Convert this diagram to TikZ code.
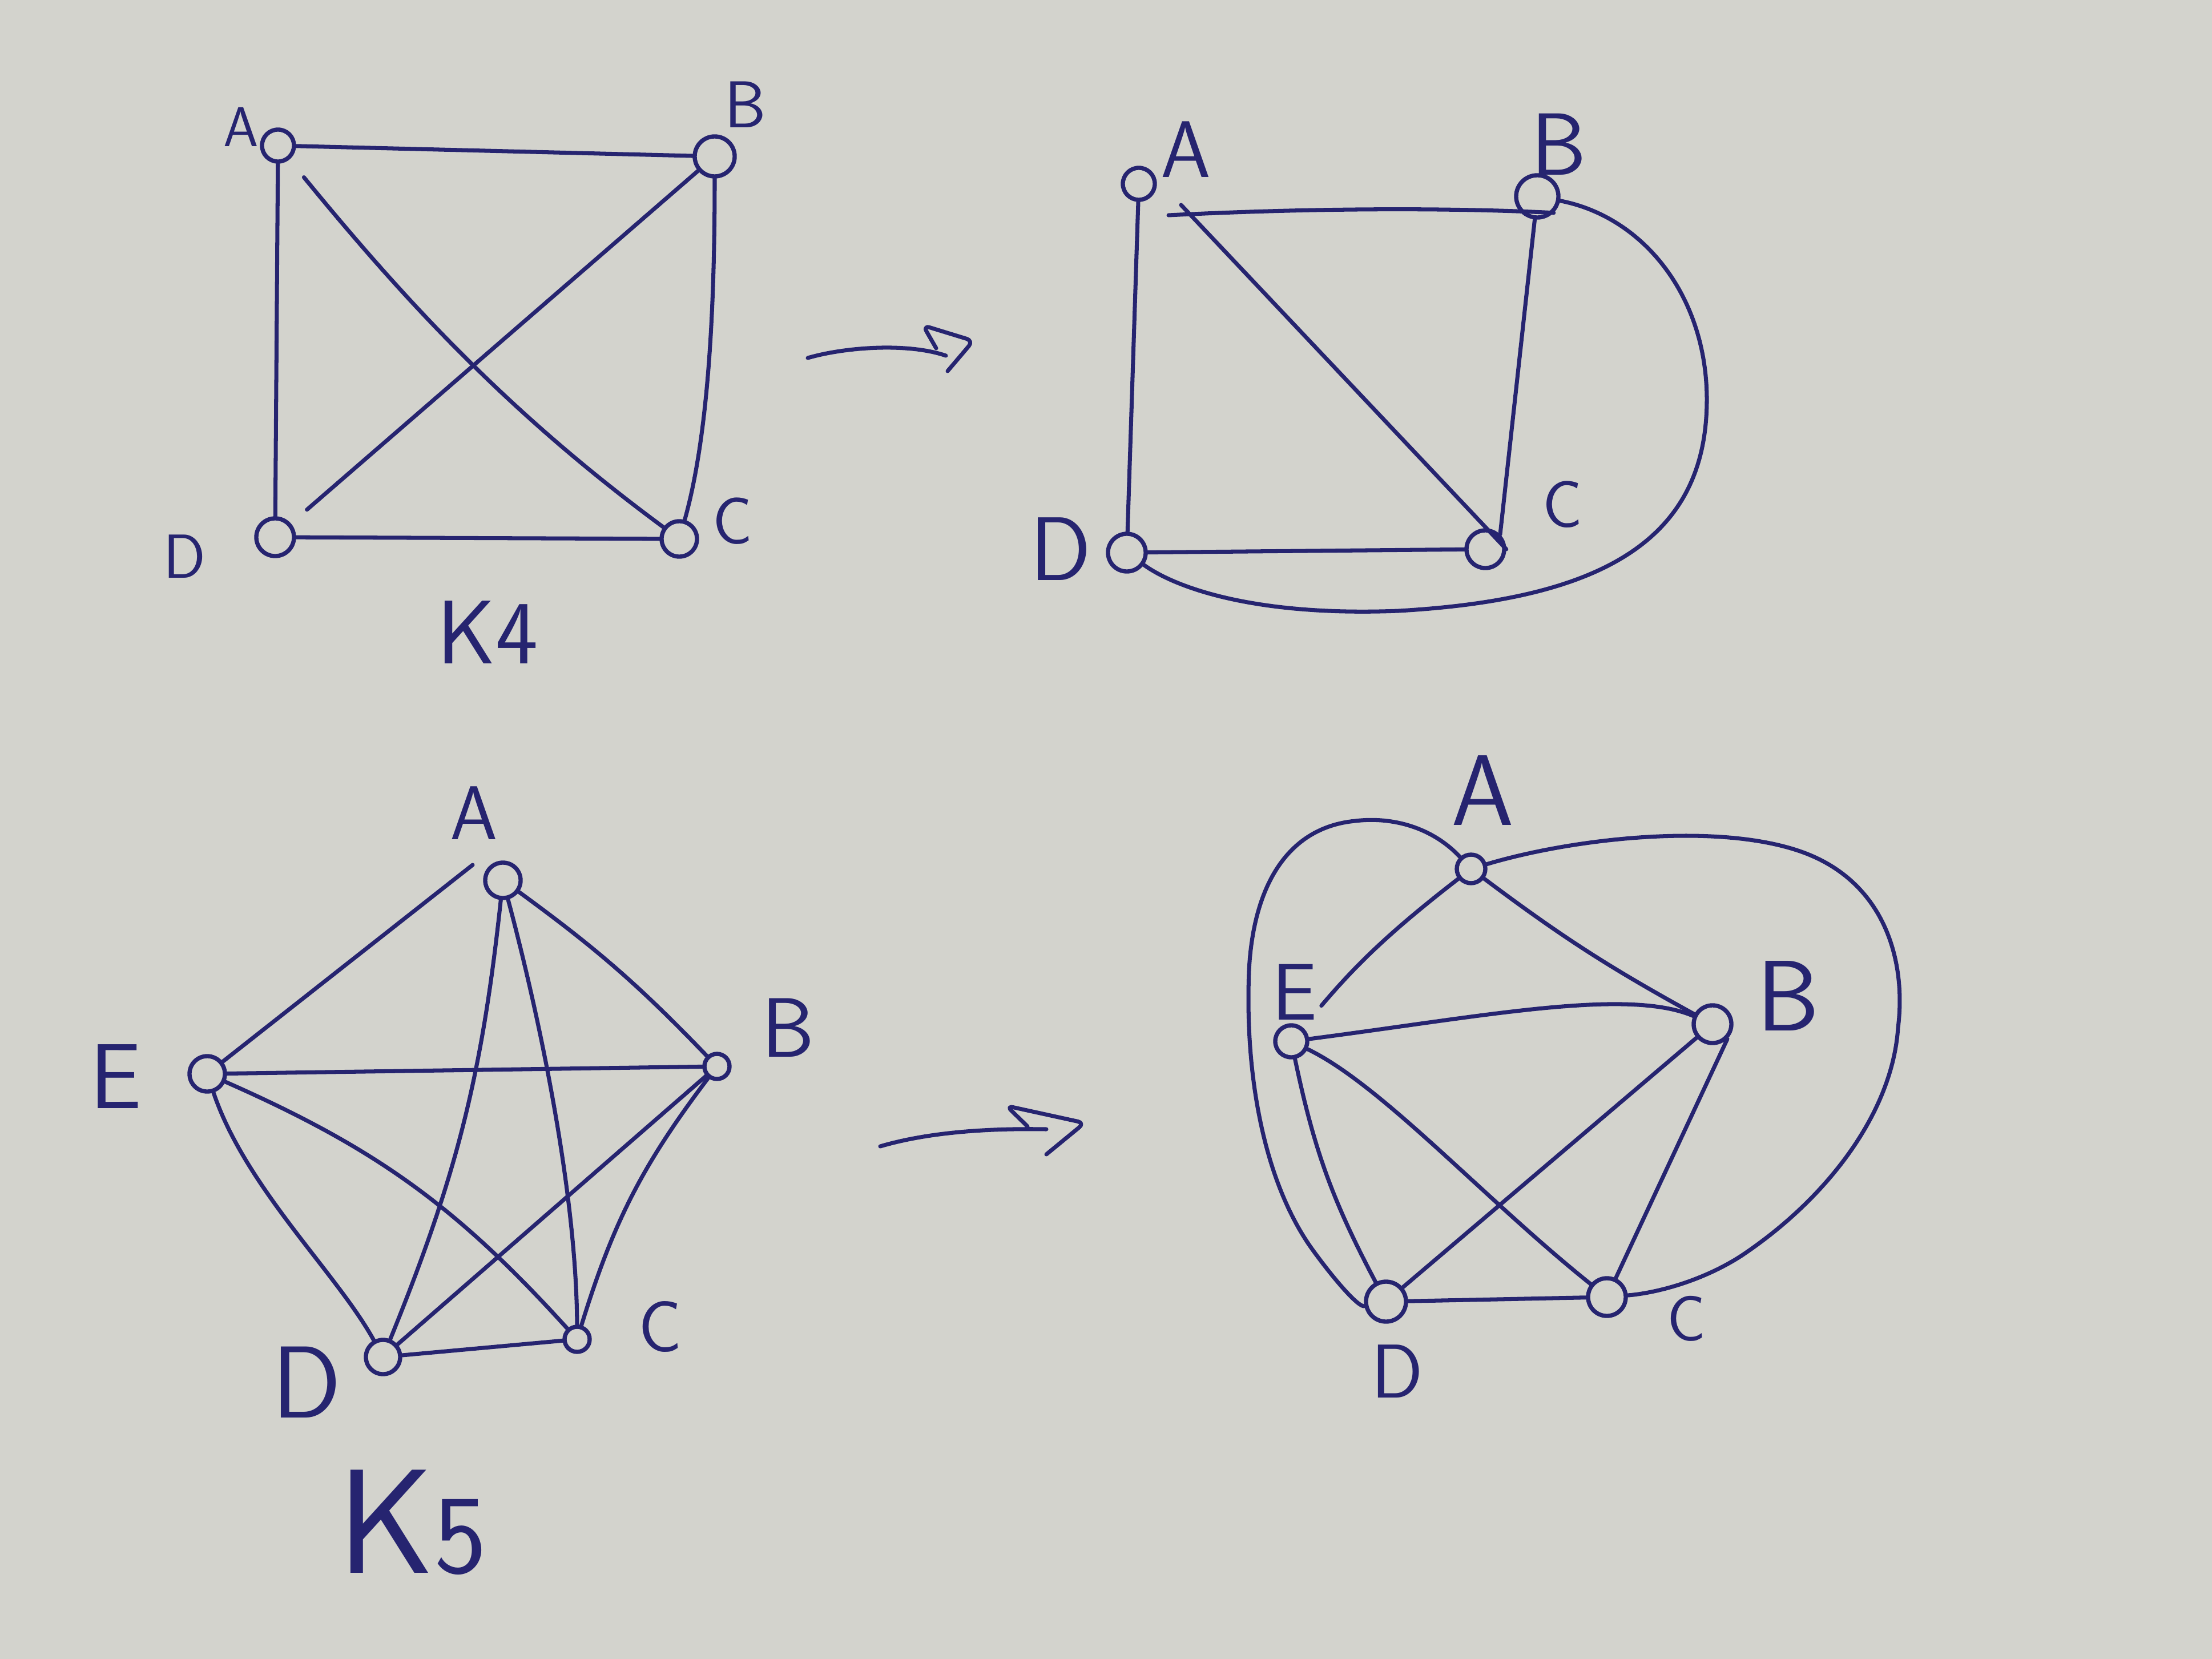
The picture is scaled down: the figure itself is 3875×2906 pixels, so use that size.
\documentclass[tikz,border=0pt]{standalone}
\usepackage{fontspec}
\definecolor{paper}{RGB}{211,211,205}
\definecolor{ink}{RGB}{38,36,112}
\begin{document}
\begin{tikzpicture}[x=0.01cm,y=-0.01cm,
  inkline/.style={draw=ink,line width=2pt,line cap=round,line join=round},
  vtx/.style={circle,draw=ink,line width=2.1pt,inner sep=0pt,minimum size=#1},
  lbl/.style={text=ink,inner sep=0pt,font=\sffamily\fontsize{#1}{#1}\selectfont}]
\fill[paper] (0,0) rectangle (3875,2906);
\useasboundingbox (0,0) rectangle (3875,2906);

% ---------- top left: K4 ----------
\node[vtx=0.56cm] (tlA) at (487,255) {};
\node[vtx=0.70cm] (tlB) at (1252,274) {};
\node[vtx=0.62cm] (tlC) at (1190,944) {};
\node[vtx=0.66cm] (tlD) at (482,941) {};
\node[lbl=28pt] (tlAl) at (422,222) {A};
\node[lbl=33pt] (tlBl) at (1306,183) {B};
\node[lbl=33pt] (tlCl) at (1283,913) {C};
\node[lbl=31pt] (tlDl) at (323,975) {D};
\node[lbl=45pt] (tlK) at (854,1108) {K4};
\draw[inkline] (tlA) -- (tlB);
\draw[inkline] (tlA) -- (tlD);
\draw[inkline] (tlB) .. controls (1252,500) and (1245,750) .. (tlC);
\draw[inkline] (tlD) -- (tlC);
\draw[inkline,shorten <=0.4cm] (tlA) .. controls (720,540) and (900,730) .. (tlC);
\draw[inkline,shorten >=0.37cm] (tlB) -- (tlD);

% ---------- top arrow ----------
\coordinate (a1s) at (1415,627);
\coordinate (a1e) at (1657,623);
\coordinate (a1h) at (1640,610);
\draw[inkline] (a1s) .. controls (1480,608) and (1590,600) .. (a1e);
\draw[inkline,rounded corners=0.12cm] (a1h) -- (1617,570) -- (1705,597) -- (1660,650);

% ---------- top right: planar K4 ----------
\node[vtx=0.56cm] (trA) at (1995,322) {};
\node[vtx=0.74cm] (trB) at (2693,344) {};
\node[vtx=0.66cm] (trC) at (2602,962) {};
\node[vtx=0.66cm] (trD) at (1974,968) {};
\node[lbl=40pt] (trAl) at (2077,262) {A};
\node[lbl=44pt] (trBl) at (2731,253) {B};
\node[lbl=33pt] (trCl) at (2737,884) {C};
\node[lbl=45pt] (trDl) at (1858,962) {D};
\coordinate (trAx) at (2047,377);
\coordinate (trAy) at (2069,359);
\draw[inkline] (trA) -- (trD);
\draw[inkline] (trAx) .. controls (2300,364) and (2550,364) .. (trB.south east);
\draw[inkline] (trAy) -- (trC.east);
\draw[inkline] (trB) -- (trC.north east);
\draw[inkline] (trD) -- (trC);
\draw[inkline] (trB) .. controls (2880,380) and (2990,520) .. (2990,700)
  .. controls (2990,950) and (2800,1050) .. (2450,1070)
  .. controls (2200,1080) and (2060,1030) .. (trD);

% ---------- bottom left: K5 ----------
\node[vtx=0.62cm] (blA) at (881,1542) {};
\node[vtx=0.44cm] (blB) at (1256,1868) {};
\node[vtx=0.44cm] (blC) at (1011,2346) {};
\node[vtx=0.60cm] (blD) at (671,2377) {};
\node[vtx=0.62cm] (blE) at (363,1881) {};
\node[lbl=38pt] (blAl) at (830,1424) {A};
\node[lbl=42pt] (blBl) at (1381,1800) {B};
\node[lbl=36pt] (blCl) at (1157,2324) {C};
\node[lbl=51pt] (blDl) at (537,2421) {D};
\node[lbl=46pt] (blEl) at (203,1886) {E};
\node[lbl=74pt,anchor=base] (blK) at (722,2755) {K{\fontsize{56pt}{56pt}\selectfont 5}};
\coordinate (blAx) at (828,1515);
\draw[inkline] (blE) -- (blAx);
\draw[inkline] (blA) to[bend left=5] (blB);
\draw[inkline] (blE) -- (blB);
\draw[inkline] (blA) to[bend left=8] (blD);
\draw[inkline] (blA) .. controls (950,1800) and (1010,2100) .. (blC);
\draw[inkline] (blB) -- (blD);
\draw[inkline] (blB) to[bend right=10] (blC);
\draw[inkline] (blE) to[bend left=12] (blC);
\draw[inkline] (blE) .. controls (430,2080) and (590,2230) .. (blD);
\draw[inkline] (blD) -- (blC);

% ---------- bottom arrow ----------
\coordinate (a2s) at (1542,2008);
\coordinate (a2e) at (1833,1978);
\coordinate (a2h) at (1800,1973);
\draw[inkline] (a2s) .. controls (1620,1985) and (1720,1976) .. (a2e);
\draw[inkline,rounded corners=0.12cm] (a2h) -- (1763,1937) -- (1900,1967) -- (1833,2022);

% ---------- bottom right: K5 redrawn ----------
\node[vtx=0.50cm] (brA) at (2577,1522) {};
\node[vtx=0.66cm] (brB) at (3000,1794) {};
\node[vtx=0.66cm] (brC) at (2815,2272) {};
\node[vtx=0.70cm] (brD) at (2428,2280) {};
\node[vtx=0.56cm] (brE) at (2262,1824) {};
\node[lbl=50pt] (brAl) at (2597,1384) {A};
\node[lbl=50pt] (brBl) at (3132,1744) {B};
\node[lbl=32pt] (brCl) at (2954,2310) {C};
\node[lbl=38pt] (brDl) at (2448,2402) {D};
\node[lbl=40pt] (brEl) at (2268,1738) {E};
\draw[inkline,shorten >=0.5cm] (brA) to[bend right=6] (brE);
\draw[inkline] (brA) to[bend right=4] (brB);
\draw[inkline] (brE) .. controls (2600,1780) and (2850,1730) .. (brB);
\draw[inkline] (brE) .. controls (2420,1900) and (2600,2100) .. (brC);
\draw[inkline] (brE) to[bend right=8] (brD);
\draw[inkline] (brB) -- (brD);
\draw[inkline] (brB.south east) -- (brC);
\draw[inkline] (brD) -- (brC);
\draw[inkline] (brA) .. controls (2510,1450) and (2440,1430) .. (2374,1438)
  .. controls (2250,1450) and (2195,1560) .. (2188,1700)
  .. controls (2180,1900) and (2220,2080) .. (2300,2190)
  .. controls (2340,2245) and (2380,2290) .. (brD);
\draw[inkline] (brA) .. controls (2750,1470) and (3000,1440) .. (3150,1490)
  .. controls (3300,1540) and (3340,1680) .. (3325,1800)
  .. controls (3315,1950) and (3200,2100) .. (3050,2200)
  .. controls (2980,2245) and (2900,2265) .. (brC);
\end{tikzpicture}
\end{document}
